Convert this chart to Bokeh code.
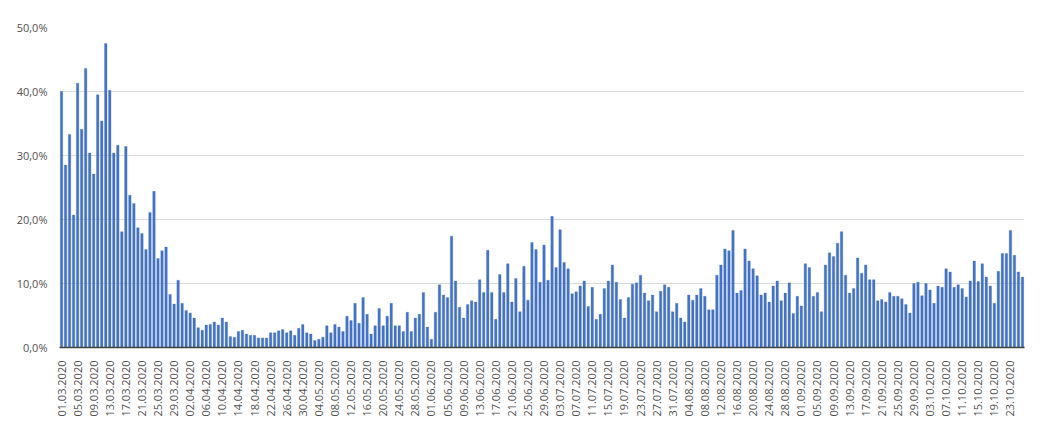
import numpy as np
import pandas as pd
from bokeh.plotting import figure
from bokeh.models import ColumnDataSource, Range1d, FixedTicker
from bokeh.embed import file_html
from bokeh.resources import INLINE

# ---- data ----
start_date = "2020-03-01"
rate = [
    40.0, 28.5, 33.3, 20.7, 41.3, 34.1, 43.6, 30.4, 27.1, 39.5,
    35.4, 47.5, 40.2, 30.4, 31.6, 18.1, 31.4, 23.8, 22.5, 18.7,
    17.8, 15.3, 21.1, 24.4, 13.9, 15.1, 15.7, 8.3, 6.8, 10.5,
    6.9, 5.8, 5.4, 4.6, 3.1, 2.7, 3.5, 3.6, 4.0, 3.5,
    4.6, 4.0, 1.7, 1.6, 2.5, 2.7, 2.1, 1.9, 1.9, 1.5,
    1.5, 1.5, 2.3, 2.3, 2.6, 2.8, 2.3, 2.6, 1.9, 3.0,
    3.6, 2.3, 2.1, 1.1, 1.3, 1.6, 3.4, 2.3, 3.6, 3.2,
    2.5, 4.9, 4.2, 6.9, 3.8, 7.8, 5.2, 2.1, 3.4, 6.1,
    3.4, 4.9, 6.9, 3.4, 3.4, 2.5, 5.5, 2.5, 4.6, 5.2,
    8.6, 3.2, 1.3, 5.5, 9.8, 8.2, 7.8, 17.4, 10.4, 6.3,
    4.6, 6.7, 7.3, 7.1, 10.6, 8.6, 15.2, 8.6, 4.4, 11.4,
    8.6, 13.1, 7.1, 10.8, 5.6, 12.7, 7.4, 16.4, 15.3, 10.2,
    16.0, 10.5, 20.5, 12.5, 18.4, 13.3, 12.3, 8.4, 8.7, 9.6,
    10.4, 6.4, 9.4, 4.4, 5.2, 9.2, 10.4, 12.9, 10.2, 7.5,
    4.6, 7.8, 9.9, 10.1, 11.3, 8.5, 7.3, 8.2, 5.6, 8.8,
    9.8, 9.4, 5.6, 6.9, 4.6, 4.0, 8.2, 7.4, 8.2, 9.2,
    8.0, 5.9, 5.9, 11.3, 12.9, 15.4, 15.1, 18.3, 8.5, 8.9,
    15.4, 13.5, 12.3, 11.2, 8.2, 8.5, 7.1, 9.6, 10.4, 7.3,
    8.5, 10.1, 5.3, 8.0, 6.5, 13.1, 12.5, 8.0, 8.6, 5.6,
    12.9, 14.8, 14.2, 16.3, 18.1, 11.3, 8.5, 9.2, 14.0, 11.6,
    12.9, 10.6, 10.6, 7.3, 7.5, 7.1, 8.6, 8.0, 8.0, 7.6,
    6.7, 5.4, 10.0, 10.2, 8.1, 10.0, 9.0, 6.9, 9.6, 9.4,
    12.3, 11.8, 9.4, 9.8, 9.2, 7.9, 10.4, 13.5, 10.3, 13.1,
    11.0, 9.6, 6.9, 11.9, 14.7, 14.7, 18.3, 14.4, 11.8, 11.0,
]
dates = [d.strftime("%d.%m.%Y") for d in pd.date_range(start_date, periods=len(rate))]
y_ticks = [0, 10, 20, 30, 40, 50]
y_tick_labels = ["0,0%", "10,0%", "20,0%", "30,0%", "40,0%", "50,0%"]
label_step = 4

# ---- figure ----
idx = list(range(len(rate)))
source = ColumnDataSource(dict(x=idx, top=rate, date=dates))

p = figure(width=1030, height=419, output_backend="svg", toolbar_location=None,
           x_range=Range1d(-0.5, len(rate) - 0.5), y_range=Range1d(0, 50),
           min_border_left=59, min_border_right=6, min_border_top=27,
           min_border_bottom=69)
p.outline_line_color = None
p.background_fill_color = "white"

p.vbar(x="x", top="top", width=0.62, source=source,
       fill_color="#4472C4", line_color="#4472C4", line_width=0.3)

tick_pos = idx[::label_step]
p.xaxis.ticker = FixedTicker(ticks=tick_pos)
p.xaxis.major_label_overrides = {i: dates[i] for i in tick_pos}
p.xaxis.major_label_orientation = np.pi / 2
p.xaxis.major_tick_line_color = None
p.xaxis.minor_tick_line_color = None
p.xaxis.axis_line_color = "#404040"
p.xaxis.axis_line_width = 1.5
p.xaxis.major_label_text_font = "Open Sans"
p.xaxis.major_label_text_font_size = "11px"
p.xaxis.major_label_text_color = "#505050"
p.xaxis.major_label_standoff = 7

p.yaxis.ticker = FixedTicker(ticks=y_ticks)
p.yaxis.major_label_overrides = dict(zip(y_ticks, y_tick_labels))
p.yaxis.axis_line_color = None
p.yaxis.major_tick_line_color = None
p.yaxis.minor_tick_line_color = None
p.yaxis.major_label_text_font = "Open Sans"
p.yaxis.major_label_text_font_size = "11px"
p.yaxis.major_label_text_color = "#505050"
p.yaxis.major_label_standoff = 6

p.xgrid.grid_line_color = None
p.ygrid.grid_line_color = "#d9d9d9"
p.ygrid.grid_line_width = 1

open("out.html", "w").write(file_html(p, INLINE))
